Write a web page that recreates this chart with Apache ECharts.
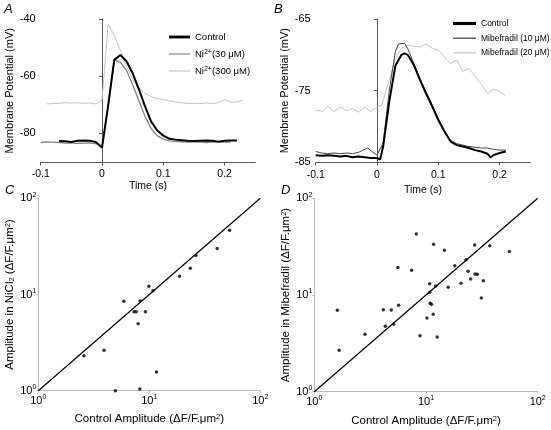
<!DOCTYPE html>
<html><head><meta charset="utf-8">
<script src="https://cdn.jsdelivr.net/npm/echarts@6/dist/echarts.min.js"></script>
<style>html,body{margin:0;padding:0;background:#fff}#c{width:551px;height:430px}</style>
</head><body><div id="c"></div>
<script>
// ---- Panel A: membrane potential traces (Ni2+) ----
const aCtrlT = [-0.07,-0.06,-0.05,-0.04,-0.03,-0.02,-0.01,0,0.01,0.02,0.03,0.04,0.05,0.06,0.07,0.08,0.09,0.10,0.11,0.12,0.13,0.14,0.15,0.16,0.17,0.18,0.19,0.20,0.21,0.22];
const aCtrlV = [-82.7,-82.8,-83.0,-82.6,-82.5,-82.6,-83.0,-85.0,-70.3,-54.3,-52.6,-54.8,-59.0,-64.5,-70.5,-75.8,-79.0,-80.8,-81.9,-82.2,-82.4,-82.6,-82.7,-82.6,-82.5,-82.6,-82.9,-82.6,-82.5,-82.5];
const aNi30T = [-0.1,-0.09,-0.08,-0.07,-0.06,-0.05,-0.04,-0.03,-0.02,-0.01,0,0.01,0.02,0.03,0.04,0.05,0.06,0.07,0.08,0.09,0.10,0.11,0.12,0.13,0.14,0.15,0.16,0.17,0.18,0.19,0.20,0.21];
const aNi30V = [-83.2,-83.0,-83.1,-83.2,-83.4,-83.3,-83.5,-83.4,-83.3,-83.6,-84.6,-70.5,-54.3,-55.2,-58.0,-63.0,-68.5,-74.0,-78.3,-80.8,-82.0,-82.6,-82.9,-83.0,-83.1,-83.0,-83.1,-83.2,-83.1,-83.0,-83.1,-83.1];
const aNi300T = [-0.09,-0.08,-0.07,-0.06,-0.05,-0.04,-0.03,-0.02,-0.01,0,0.01,0.02,0.03,0.04,0.05,0.06,0.07,0.08,0.09,0.10,0.11,0.12,0.13,0.14,0.15,0.16,0.17,0.18,0.19,0.20,0.21,0.22,0.23];
const aNi300V = [-69.7,-69.6,-69.5,-69.3,-69.4,-69.3,-69.5,-69.4,-69.7,-68.5,-41.7,-45.8,-51.0,-56.5,-61.0,-64.0,-66.0,-67.2,-67.8,-68.2,-68.6,-69.0,-69.3,-69.5,-69.5,-69.6,-69.4,-69.6,-69.2,-68.2,-69.0,-69.1,-68.3];

// ---- Panel B: membrane potential traces (Mibefradil) ----
const bCtrlT = [-0.1,-0.09,-0.08,-0.07,-0.06,-0.05,-0.04,-0.03,-0.02,-0.01,0,0.005,0.01,0.02,0.03,0.04,0.045,0.05,0.06,0.07,0.08,0.09,0.10,0.11,0.12,0.13,0.14,0.15,0.16,0.17,0.18,0.185,0.19,0.20,0.21];
const bCtrlV = [-84.0,-84.1,-84.0,-84.1,-84.2,-84.1,-84.3,-84.2,-84.3,-84.4,-84.4,-84.6,-82.8,-76.5,-71.5,-70.0,-69.8,-70.0,-71.4,-73.5,-75.4,-77.2,-79.1,-80.7,-82.1,-82.6,-82.8,-83.0,-83.3,-83.5,-83.8,-84.3,-84.0,-83.7,-83.5];
const bMib10T = [-0.1,-0.09,-0.08,-0.07,-0.06,-0.05,-0.04,-0.03,-0.02,-0.015,-0.01,0,0.01,0.02,0.03,0.035,0.045,0.05,0.06,0.07,0.08,0.09,0.10,0.11,0.12,0.13,0.14,0.15,0.16,0.17,0.18,0.19,0.20,0.21];
const bMib10V = [-83.5,-83.7,-83.8,-83.7,-83.8,-83.7,-83.8,-83.6,-83.2,-83.0,-83.4,-84.0,-82.3,-75.0,-69.5,-68.5,-68.4,-69.1,-71.2,-73.3,-75.2,-77.0,-78.9,-80.6,-81.9,-82.4,-82.6,-82.8,-82.9,-83.0,-83.0,-83.2,-83.3,-83.3];
const bMib20T = [-0.1,-0.09,-0.08,-0.07,-0.06,-0.05,-0.04,-0.03,-0.02,-0.011,0,0.008,0.02,0.03,0.04,0.05,0.06,0.07,0.08,0.09,0.10,0.11,0.12,0.13,0.14,0.15,0.16,0.17,0.18,0.19,0.20,0.21];
const bMib20V = [-77.7,-77.9,-77.2,-77.9,-77.3,-77.8,-77.5,-78.0,-77.3,-77.9,-77.3,-77.0,-73.5,-70.5,-69.1,-68.7,-68.8,-68.9,-68.5,-69.1,-69.3,-70.3,-71.2,-70.7,-72.3,-71.9,-73.0,-74.1,-75.4,-74.8,-75.1,-75.7];

// ---- Panel C: amplitude control vs NiCl2 ----
const cControl = [2.58,3.91,4.95,5.89,7.30,7.61,7.93,8.27,8.21,9.23,9.90,10.8,11.6,18.7,23.4,26.3,40.9,52.9];
const cNiCl2   = [2.31,2.63,1.00,8.49,6.63,6.63,4.97,8.56,1.04,6.63,12.2,10.96,1.56,15.5,18.7,25.5,30.0,46.5];

// ---- Panel D: amplitude control vs Mibefradil ----
const dControl = [1.61,1.67,2.84,4.15,4.32,4.89,5.13,5.61,5.69,7.44,8.19,8.84,10.2,10.8,10.8,10.9,11.2,11.6,11.7,12.2,12.6,14.6,15.8,18.1,20.6,22.8,23.8,25.1,27.3,27.5,28.8,31.3,32.6,37.2,55.7];
const dMib     = [6.94,2.68,3.92,7.05,4.74,7.00,4.97,19.2,7.82,18.0,42.8,3.80,5.78,13.1,10.7,8.20,8.00,6.31,33.4,12.4,3.68,29.0,12.0,20.1,13.2,23.2,17.6,14.6,32.9,16.5,16.4,9.31,14.0,32.4,28.1];

// identity line endpoints and tick values
const identity = [1, 100];
const aTicksX = [-0.1, 0, 0.1, 0.2];
const aTicksY = [-80, -60, -40];
const bTicksY = [-85, -75, -65];

const zip = (a, b) => a.map((v, i) => [v, b[i]]);

const REG = 'Liberation Sans, Arial, sans-serif';

const supRich = {
  s: { fontSize: 7, verticalAlign: 'top', lineHeight: 9, fontFamily: REG, color: '#000' }
};
const logFmt = v => '10{s|' + Math.round(Math.log10(v)) + '}';

function timeAxis(gi, nameGap, marginX) {
  return {
    type: 'value', gridIndex: gi, min: -0.1, max: 0.25,
    axisLine: { lineStyle: { color: '#555', width: 1 } },
    axisTick: { length: 3, lineStyle: { color: '#555' }, customValues: aTicksX },
    axisLabel: { customValues: aTicksX, margin: marginX, fontSize: 10.5, fontFamily: REG, color: '#000',
                 formatter: v => (Math.abs(v) < 1e-9 ? '0' : String(+v.toFixed(2))) },
    splitLine: { show: false },
    name: 'Time (s)', nameLocation: 'middle', nameGap: nameGap,
    nameTextStyle: { fontSize: 10.5, fontFamily: REG, color: '#000' }
  };
}
function vAxis(gi, min, max, ticks, nameGap) {
  return {
    type: 'value', gridIndex: gi, min: min, max: max,
    axisLine: { show: true, lineStyle: { color: '#555', width: 1 } },
    axisTick: { show: true, length: 3, lineStyle: { color: '#555' }, customValues: ticks },
    axisLabel: { customValues: ticks, margin: 5, fontSize: 11, fontFamily: REG, color: '#000' },
    splitLine: { show: false },
    name: 'Membrane Potential (mV)', nameLocation: 'middle', nameRotate: 90, nameGap: nameGap,
    nameTextStyle: { fontSize: 11, fontFamily: REG, color: '#000' }
  };
}
function logAxis(gi, isY, name, nameGap, rich) {
  return {
    type: 'log', gridIndex: gi, min: 1, max: 100, logBase: 10,
    axisLine: { show: true, lineStyle: { color: '#bbb', width: 1 } },
    axisTick: { show: true, length: 2, lineStyle: { color: '#bbb' } },
    axisLabel: { margin: isY ? 2 : 3, fontSize: 11, fontFamily: REG, color: '#000', lineHeight: 14,
                 formatter: logFmt, rich: supRich },
    splitLine: { show: false },
    minorTick: { show: false },
    name: name, nameLocation: 'middle', nameRotate: isY ? 90 : 0, nameGap: nameGap,
    nameTextStyle: { fontSize: 11.5, fontFamily: REG, color: '#000', rich: rich }
  };
}

const nameRich = {
  sup: { fontSize: 7.5, verticalAlign: 'top', lineHeight: 10, fontFamily: REG, color: '#000' },
  sub: { fontSize: 7.5, verticalAlign: 'bottom', lineHeight: 10, fontFamily: REG, color: '#000' }
};

const legendNames = {
  'Control': 'Control',
  'Ni30': 'Ni{sup|2+}(30 μM)',
  'Ni300': 'Ni{sup|2+}(300 μM)',
  'Mib10': 'Mibefradil (10 μM)',
  'Mib20': 'Mibefradil (20 μM)'
};
const legRich = { sup: { fontSize: 7, verticalAlign: 'top', lineHeight: 8, fontFamily: REG, color: '#000' } };
const thickIcon = 'path://M0,0H22V3H0Z';
const thinIcon = 'path://M0,0H22V1.2H0Z';

const chart = echarts.init(document.getElementById('c'), null, { renderer: 'canvas' });
chart.setOption({
  animation: false,
  backgroundColor: '#fff',
  grid: [
    { left: 40.7, top: 19, width: 214.6, height: 143.5 },
    { left: 315.7, top: 19, width: 214.6, height: 143.3 },
    { left: 38.3, top: 198.3, width: 222, height: 192.4 },
    { left: 314.3, top: 198.3, width: 223.4, height: 193.4 }
  ],
  xAxis: [
    timeAxis(0, 17, 6),
    timeAxis(1, 22, 7),
    logAxis(2, false, 'Control Amplitude (ΔF/F.μm{sup|2})', 22, nameRich),
    logAxis(3, false, 'Control Amplitude (ΔF/F.μm{sup|2})', 23, nameRich)
  ],
  yAxis: [
    vAxis(0, -90.2, -40, aTicksY, 19),
    vAxis(1, -85, -65, bTicksY, 18),
    logAxis(2, true, 'Amplitude in NiCl{sub|2} (ΔF/F.μm{sup|2})', 19, nameRich),
    logAxis(3, true, 'Amplitude in Mibefradil (ΔF/F.μm{sup|2})', 18, nameRich)
  ],
  legend: [
    { orient: 'vertical', left: 164, top: 27, itemWidth: 21, itemHeight: 10, itemGap: 7,
      data: [{ name: 'Control', icon: thickIcon }, { name: 'Ni30', icon: thinIcon }, { name: 'Ni300', icon: thinIcon }],
      formatter: n => legendNames[n],
      textStyle: { fontSize: 9.5, fontFamily: REG, color: '#000', rich: legRich } },
    { orient: 'vertical', left: 448, top: 14, itemWidth: 23, itemHeight: 10, itemGap: 5.7,
      data: [{ name: 'Control', icon: thickIcon }, { name: 'Mib10', icon: thinIcon }, { name: 'Mib20', icon: thinIcon }],
      formatter: n => legendNames[n],
      textStyle: { fontSize: 8.5, fontFamily: REG, color: '#000' } }
  ],
  graphic: [
    { type: 'text', left: 4, top: 3, style: { text: 'A', font: 'italic 13px ' + REG, fill: '#000' } },
    { type: 'text', left: 274, top: 3, style: { text: 'B', font: 'italic 13px ' + REG, fill: '#000' } },
    { type: 'text', left: 5, top: 184, style: { text: 'C', font: 'italic 13px ' + REG, fill: '#000' } },
    { type: 'text', left: 281, top: 184, style: { text: 'D', font: 'italic 13px ' + REG, fill: '#000' } }
  ],
  series: [
    { name: 'Ni300', type: 'line', xAxisIndex: 0, yAxisIndex: 0, data: zip(aNi300T, aNi300V),
      showSymbol: false, symbol: 'none', lineStyle: { color: '#c4c4c4', width: 1 }, itemStyle: { color: '#c4c4c4' } },
    { name: 'Ni30', type: 'line', xAxisIndex: 0, yAxisIndex: 0, data: zip(aNi30T, aNi30V),
      showSymbol: false, symbol: 'none', lineStyle: { color: '#808080', width: 1.3 }, itemStyle: { color: '#808080' } },
    { name: 'Control', type: 'line', xAxisIndex: 0, yAxisIndex: 0, data: zip(aCtrlT, aCtrlV),
      showSymbol: false, symbol: 'none', lineStyle: { color: '#000', width: 2 }, itemStyle: { color: '#000' } },

    { name: 'Mib20', type: 'line', xAxisIndex: 1, yAxisIndex: 1, data: zip(bMib20T, bMib20V),
      showSymbol: false, symbol: 'none', lineStyle: { color: '#c4c4c4', width: 1 }, itemStyle: { color: '#c4c4c4' } },
    { name: 'Mib10', type: 'line', xAxisIndex: 1, yAxisIndex: 1, data: zip(bMib10T, bMib10V),
      showSymbol: false, symbol: 'none', lineStyle: { color: '#444', width: 1 }, itemStyle: { color: '#444' } },
    { name: 'Control', type: 'line', xAxisIndex: 1, yAxisIndex: 1, data: zip(bCtrlT, bCtrlV),
      showSymbol: false, symbol: 'none', lineStyle: { color: '#000', width: 2 }, itemStyle: { color: '#000' } },

    { type: 'line', xAxisIndex: 2, yAxisIndex: 2, data: zip(identity, identity),
      showSymbol: false, symbol: 'none', lineStyle: { color: '#000', width: 1.2 }, silent: true },
    { type: 'scatter', xAxisIndex: 2, yAxisIndex: 2, data: zip(cControl, cNiCl2),
      symbolSize: 3.5, itemStyle: { color: '#000' } },

    { type: 'line', xAxisIndex: 3, yAxisIndex: 3, data: zip(identity, identity),
      showSymbol: false, symbol: 'none', lineStyle: { color: '#000', width: 1.2 }, silent: true },
    { type: 'scatter', xAxisIndex: 3, yAxisIndex: 3, data: zip(dControl, dMib),
      symbolSize: 3.5, itemStyle: { color: '#000' } }
  ]
});
</script></body></html>
